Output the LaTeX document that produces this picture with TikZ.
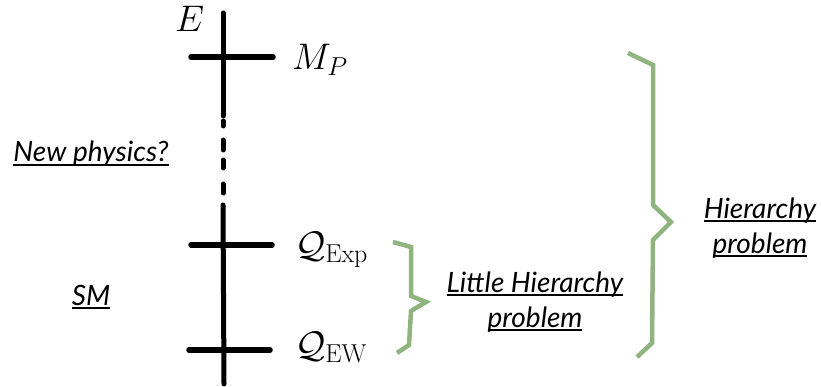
\RequirePackage{fix-cm}
\documentclass[tikz,border=0pt]{standalone}
\usepackage{fontspec}
\setsansfont{Lato}
\definecolor{bracegreen}{RGB}{143,180,128}
\newcommand\myul[1]{\setbox0\hbox{#1}\rlap{\rule[-4pt]{\wd0}{1.8pt}}\box0}
\begin{document}
\begin{tikzpicture}[x=1pt,y=-1pt,
  lbl/.style={font=\sffamily\itshape\fontsize{28}{35}\selectfont, inner sep=0pt, align=center, anchor=base},
  mlbl/.style={font=\fontsize{37}{42}\selectfont, inner sep=0pt, anchor=base west},
  axisline/.style={line width=5pt, line cap=round},
  tickline/.style={line width=5.5pt, line cap=round},
  bracestyle/.style={draw=bracegreen, line width=4.5pt, line join=miter}]
\useasboundingbox (0,0) rectangle (821,387);
% axis
\coordinate (top) at (223,13);
\coordinate (gapA) at (223,116);
\coordinate (gapB) at (223,205);
\coordinate (bot) at (224,384);
\draw[axisline] (top) -- (gapA);
\draw[axisline] (gapB) -- (bot);
\foreach \ya/\yb in {121/126,140/150,160/168,184/193}{
  \draw[axisline] (223,\ya) -- (223,\yb);
}
% ticks
\coordinate (t1a) at (191,57); \coordinate (t1b) at (273,57);
\coordinate (t2a) at (191,245); \coordinate (t2b) at (272,245);
\coordinate (t3a) at (189,350); \coordinate (t3b) at (270,350);
\draw[tickline] (t1a) -- (t1b);
\draw[tickline] (t2a) -- (t2b);
\draw[tickline] (t3a) -- (t3b);
% labels
\node[mlbl] (E) at (175,32) {$E$};
\node[mlbl] (MP) at (292,70) {$M_P$};
\node[mlbl] (QExp) at (295,257) {$\mathcal{Q}_{\mathrm{Exp}}$};
\node[mlbl] (QEW) at (295,357) {$\mathcal{Q}_{\mathrm{EW}}$};
\node[lbl] (NP) at (91,162) {\myul{New physics?}};
\node[lbl] (SM) at (91,305) {\myul{SM}};
\node[lbl] (LH) at (535,327) {\myul{Little Hierarchy}\\\myul{problem}};
\node[lbl] (HP) at (760,253) {\myul{Hierarchy}\\\myul{problem}};
% small brace
\coordinate (s1) at (393,242);
\coordinate (s2) at (411,247);
\coordinate (s3) at (411,296);
\coordinate (stip) at (426,302);
\coordinate (s4) at (411,311);
\coordinate (s5) at (409,345);
\coordinate (s6) at (397,353);
\draw[bracestyle] (s1) -- (s2) -- (s3) -- (stip) -- (s4) -- (s5) -- (s6);
% big brace
\coordinate (b1) at (628,53);
\coordinate (b2) at (653,65);
\coordinate (b3) at (653,205);
\coordinate (btip) at (671,222);
\coordinate (b4) at (653,240);
\coordinate (b5) at (652,343);
\coordinate (b6) at (637,357);
\draw[bracestyle] (b1) -- (b2) -- (b3) -- (btip) -- (b4) -- (b5) -- (b6);
\end{tikzpicture}
\end{document}
